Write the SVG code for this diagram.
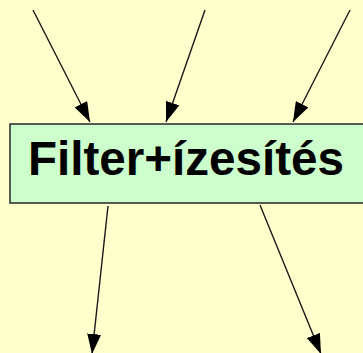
<svg xmlns="http://www.w3.org/2000/svg" width="363" height="353" viewBox="0 0 363 353">
  <style>
    .edge { stroke: #1a1a1a; stroke-width: 1.4; fill: none; marker-end: url(#arrow); }
    .box { fill: #ccffcc; stroke: #333333; stroke-width: 1.6; }
    .label { font-family: "Liberation Sans", Arial, sans-serif; font-weight: bold; font-size: 48px; fill: #000000; }
  </style>
  <defs>
    <marker id="arrow" markerUnits="userSpaceOnUse" markerWidth="21" markerHeight="14" refX="20" refY="7" orient="auto">
      <path d="M0,0 L20,7 L0,14 Z" fill="#000000"/>
    </marker>
  </defs>
  <rect width="363" height="353" fill="#ffffcc"/>
  <g id="connectors">
    <line class="edge" x1="33" y1="10" x2="90" y2="122"/>
    <line class="edge" x1="205" y1="10" x2="166" y2="122"/>
    <line class="edge" x1="350" y1="10" x2="293" y2="122"/>
    <line class="edge" x1="108" y1="206" x2="92" y2="354"/>
    <line class="edge" x1="260" y1="205" x2="321" y2="354"/>
  </g>
  <g id="filter-node">
    <rect class="box" x="10" y="124" width="370" height="79"/>
    <text class="label" x="28" y="175" textLength="316" lengthAdjust="spacingAndGlyphs">Filter+ízesítés</text>
  </g>
</svg>
